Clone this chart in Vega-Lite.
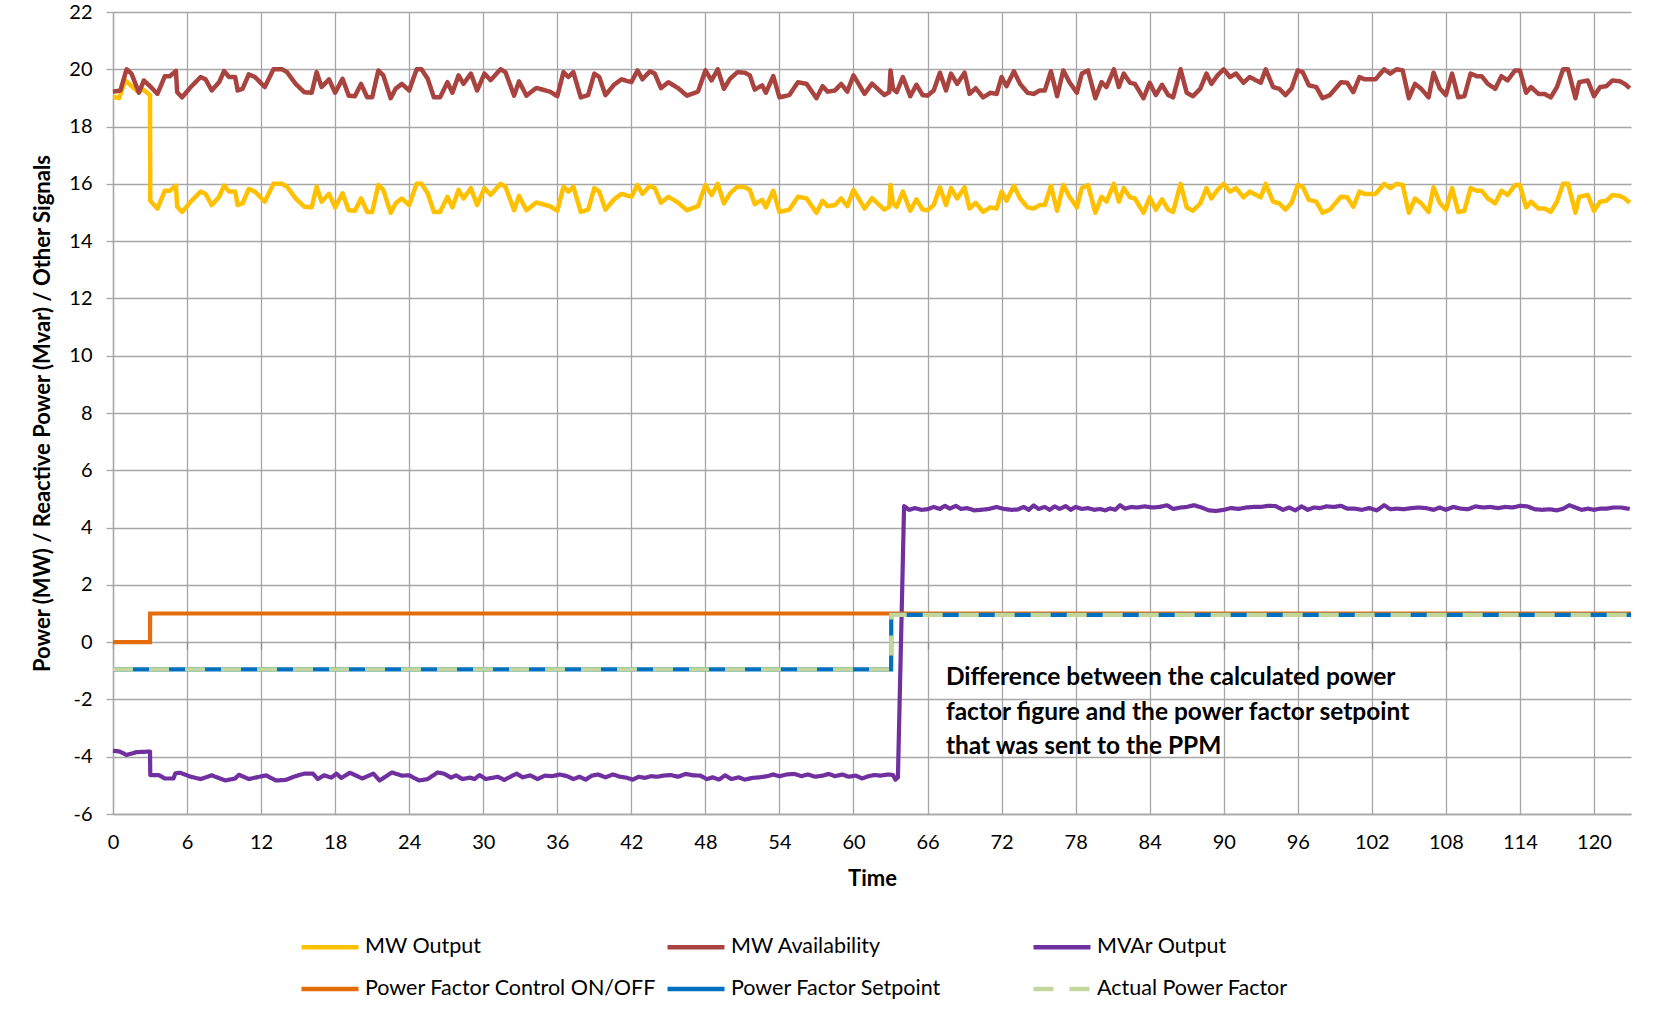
{
"$schema":"https://vega.github.io/schema/vega-lite/v6.json",
"width":1518,"height":802,
"autosize":{"type":"none"},
"padding":{"left":113,"top":12,"right":45,"bottom":210},
"background":"#ffffff",
"config":{
"font":"Lato",
"view":{"stroke":null},
"axis":{"labelFont":"Lato","labelFontSize":20,"labelColor":"#000000","titleFont":"Lato","titleFontSize":22,"titleFontWeight":"bold","titleColor":"#000000","gridColor":"#A6A6A6","gridWidth":1.3,"domainColor":"#A6A6A6","domainWidth":1.3,"tickColor":"#A6A6A6","tickWidth":1.3},
"legend":{"symbolType":"stroke","symbolSize":3249,"symbolStrokeWidth":4.5,"labelFont":"Lato","labelFontSize":21.5,"labelColor":"#000000","labelOffset":4,"padding":0,"labelLimit":500,"gridAlign":"all","columnPadding":1,"rowPadding":-13}
},
"datasets":{
"mwout":[{"t":0,"v":19.03},{"t":0.5,"v":19.0},{"t":1.0,"v":19.61},{"t":1.9,"v":19.26},{"t":2.45,"v":19.29},{"t":3.0,"v":19.1},{"t":3.02,"v":15.41},{"t":3.6,"v":15.14},{"t":4.0,"v":15.55},{"t":4.2,"v":15.76},{"t":4.6,"v":15.76},{"t":5.1,"v":15.94},{"t":5.2,"v":15.2},{"t":5.6,"v":15.02},{"t":6.3,"v":15.38},{"t":7.1,"v":15.73},{"t":7.5,"v":15.65},{"t":8.0,"v":15.26},{"t":8.6,"v":15.55},{"t":9.0,"v":15.94},{"t":9.4,"v":15.73},{"t":9.9,"v":15.73},{"t":10.1,"v":15.26},{"t":10.5,"v":15.32},{"t":11.0,"v":15.82},{"t":11.5,"v":15.73},{"t":12.3,"v":15.38},{"t":13.0,"v":16.0},{"t":13.7,"v":16.0},{"t":14.1,"v":15.9},{"t":14.8,"v":15.49},{"t":15.5,"v":15.2},{"t":16.1,"v":15.18},{"t":16.5,"v":15.9},{"t":16.9,"v":15.38},{"t":17.5,"v":15.65},{"t":18.0,"v":15.18},{"t":18.6,"v":15.67},{"t":19.1,"v":15.08},{"t":19.6,"v":15.06},{"t":20.1,"v":15.49},{"t":20.6,"v":15.02},{"t":21.0,"v":15.02},{"t":21.5,"v":15.96},{"t":21.9,"v":15.79},{"t":22.5,"v":14.99},{"t":22.9,"v":15.32},{"t":23.4,"v":15.49},{"t":24.0,"v":15.26},{"t":24.6,"v":16.0},{"t":25.0,"v":16.0},{"t":25.5,"v":15.67},{"t":26.0,"v":15.02},{"t":26.5,"v":15.02},{"t":27.1,"v":15.55},{"t":27.5,"v":15.18},{"t":28.0,"v":15.79},{"t":28.4,"v":15.49},{"t":29.0,"v":15.85},{"t":29.5,"v":15.26},{"t":30.1,"v":15.85},{"t":30.6,"v":15.62},{"t":31.4,"v":16.0},{"t":31.8,"v":15.9},{"t":32.5,"v":15.08},{"t":32.9,"v":15.58},{"t":33.5,"v":15.08},{"t":34.3,"v":15.35},{"t":35.4,"v":15.22},{"t":36.0,"v":15.06},{"t":36.5,"v":15.9},{"t":36.9,"v":15.73},{"t":37.3,"v":15.9},{"t":37.9,"v":15.02},{"t":38.5,"v":15.1},{"t":39.0,"v":15.85},{"t":39.4,"v":15.73},{"t":39.9,"v":15.1},{"t":40.6,"v":15.46},{"t":41.2,"v":15.65},{"t":42.0,"v":15.55},{"t":42.5,"v":15.96},{"t":42.9,"v":15.65},{"t":43.5,"v":15.93},{"t":43.9,"v":15.85},{"t":44.4,"v":15.34},{"t":45.0,"v":15.55},{"t":45.8,"v":15.34},{"t":46.5,"v":15.08},{"t":47.4,"v":15.22},{"t":48.0,"v":15.96},{"t":48.5,"v":15.61},{"t":49.0,"v":16.0},{"t":49.5,"v":15.32},{"t":50.0,"v":15.67},{"t":50.6,"v":15.9},{"t":51.2,"v":15.88},{"t":51.6,"v":15.79},{"t":52.0,"v":15.29},{"t":52.6,"v":15.44},{"t":52.9,"v":15.18},{"t":53.5,"v":15.76},{"t":54.0,"v":15.02},{"t":54.8,"v":15.1},{"t":55.5,"v":15.55},{"t":56.2,"v":15.49},{"t":57.0,"v":14.99},{"t":57.5,"v":15.41},{"t":57.9,"v":15.22},{"t":58.5,"v":15.26},{"t":59.0,"v":15.49},{"t":59.5,"v":15.22},{"t":60.0,"v":15.79},{"t":60.9,"v":15.14},{"t":61.5,"v":15.5},{"t":61.8,"v":15.38},{"t":62.5,"v":15.1},{"t":62.9,"v":15.2},{"t":63.0,"v":15.96},{"t":63.2,"v":15.32},{"t":63.5,"v":15.2},{"t":64.0,"v":15.73},{"t":64.6,"v":15.06},{"t":65.1,"v":15.46},{"t":65.6,"v":15.1},{"t":66.0,"v":15.08},{"t":66.5,"v":15.26},{"t":67.0,"v":15.88},{"t":67.5,"v":15.26},{"t":67.9,"v":15.85},{"t":68.4,"v":15.49},{"t":69.0,"v":15.88},{"t":69.4,"v":15.14},{"t":69.9,"v":15.34},{"t":70.5,"v":15.02},{"t":71.1,"v":15.18},{"t":71.6,"v":15.14},{"t":72.0,"v":15.73},{"t":72.4,"v":15.41},{"t":73.0,"v":15.93},{"t":73.5,"v":15.49},{"t":74.1,"v":15.18},{"t":74.6,"v":15.14},{"t":75.1,"v":15.26},{"t":75.5,"v":15.26},{"t":76.0,"v":15.93},{"t":76.5,"v":15.06},{"t":77.0,"v":15.96},{"t":77.5,"v":15.55},{"t":78.1,"v":15.18},{"t":78.5,"v":15.85},{"t":79.0,"v":15.96},{"t":79.6,"v":14.99},{"t":80.1,"v":15.55},{"t":80.5,"v":15.38},{"t":81.1,"v":16.0},{"t":81.5,"v":15.38},{"t":81.9,"v":15.85},{"t":82.4,"v":15.53},{"t":82.8,"v":15.49},{"t":83.5,"v":14.99},{"t":84.0,"v":15.53},{"t":84.5,"v":15.1},{"t":85.0,"v":15.46},{"t":85.5,"v":15.1},{"t":85.9,"v":15.02},{"t":86.5,"v":16.0},{"t":87.0,"v":15.18},{"t":87.5,"v":15.06},{"t":88.1,"v":15.32},{"t":88.6,"v":15.85},{"t":89.0,"v":15.49},{"t":89.5,"v":15.79},{"t":90.0,"v":16.0},{"t":90.5,"v":15.73},{"t":91.0,"v":15.85},{"t":91.6,"v":15.53},{"t":92.1,"v":15.73},{"t":93.0,"v":15.53},{"t":93.4,"v":16.0},{"t":94.0,"v":15.38},{"t":94.5,"v":15.32},{"t":95.0,"v":15.1},{"t":95.5,"v":15.34},{"t":96.0,"v":15.96},{"t":96.4,"v":15.9},{"t":96.9,"v":15.44},{"t":97.5,"v":15.38},{"t":98.0,"v":14.99},{"t":98.6,"v":15.1},{"t":99.5,"v":15.55},{"t":100.0,"v":15.53},{"t":100.5,"v":15.2},{"t":101.0,"v":15.73},{"t":101.4,"v":15.65},{"t":102.3,"v":15.65},{"t":103.0,"v":16.0},{"t":103.5,"v":15.85},{"t":104.0,"v":16.0},{"t":104.5,"v":15.96},{"t":105.0,"v":14.99},{"t":105.5,"v":15.49},{"t":106.0,"v":15.32},{"t":106.6,"v":15.02},{"t":107.0,"v":15.88},{"t":107.5,"v":15.34},{"t":108.0,"v":15.1},{"t":108.5,"v":15.85},{"t":109.0,"v":15.02},{"t":109.5,"v":15.06},{"t":110.0,"v":15.85},{"t":110.5,"v":15.76},{"t":110.9,"v":15.76},{"t":111.4,"v":15.49},{"t":112.0,"v":15.32},{"t":112.5,"v":15.76},{"t":113.0,"v":15.61},{"t":113.6,"v":15.96},{"t":114.0,"v":15.96},{"t":114.5,"v":15.18},{"t":114.9,"v":15.38},{"t":115.5,"v":15.14},{"t":116.0,"v":15.14},{"t":116.5,"v":15.02},{"t":117.0,"v":15.38},{"t":117.5,"v":16.0},{"t":117.9,"v":16.0},{"t":118.5,"v":14.99},{"t":118.8,"v":15.55},{"t":119.5,"v":15.61},{"t":120.0,"v":15.06},{"t":120.5,"v":15.38},{"t":121.0,"v":15.41},{"t":121.5,"v":15.61},{"t":122.1,"v":15.58},{"t":122.5,"v":15.49},{"t":122.9,"v":15.34}],
"avail":[{"t":0,"v":19.22},{"t":0.6,"v":19.26},{"t":1.1,"v":20.0},{"t":1.5,"v":19.85},{"t":2.1,"v":19.18},{"t":2.5,"v":19.61},{"t":3.0,"v":19.41},{"t":3.6,"v":19.14},{"t":4.0,"v":19.55},{"t":4.2,"v":19.76},{"t":4.6,"v":19.76},{"t":5.1,"v":19.94},{"t":5.2,"v":19.2},{"t":5.6,"v":19.02},{"t":6.3,"v":19.38},{"t":7.1,"v":19.73},{"t":7.5,"v":19.65},{"t":8.0,"v":19.26},{"t":8.6,"v":19.55},{"t":9.0,"v":19.94},{"t":9.4,"v":19.73},{"t":9.9,"v":19.73},{"t":10.1,"v":19.26},{"t":10.5,"v":19.32},{"t":11.0,"v":19.82},{"t":11.5,"v":19.73},{"t":12.3,"v":19.38},{"t":13.0,"v":20.0},{"t":13.7,"v":20.0},{"t":14.1,"v":19.9},{"t":14.8,"v":19.49},{"t":15.5,"v":19.2},{"t":16.1,"v":19.18},{"t":16.5,"v":19.9},{"t":16.9,"v":19.38},{"t":17.5,"v":19.65},{"t":18.0,"v":19.18},{"t":18.6,"v":19.67},{"t":19.1,"v":19.08},{"t":19.6,"v":19.06},{"t":20.1,"v":19.49},{"t":20.6,"v":19.02},{"t":21.0,"v":19.02},{"t":21.5,"v":19.96},{"t":21.9,"v":19.79},{"t":22.5,"v":18.99},{"t":22.9,"v":19.32},{"t":23.4,"v":19.49},{"t":24.0,"v":19.26},{"t":24.6,"v":20.0},{"t":25.0,"v":20.0},{"t":25.5,"v":19.67},{"t":26.0,"v":19.02},{"t":26.5,"v":19.02},{"t":27.1,"v":19.55},{"t":27.5,"v":19.18},{"t":28.0,"v":19.79},{"t":28.4,"v":19.49},{"t":29.0,"v":19.85},{"t":29.5,"v":19.26},{"t":30.1,"v":19.85},{"t":30.6,"v":19.62},{"t":31.4,"v":20.0},{"t":31.8,"v":19.9},{"t":32.5,"v":19.08},{"t":32.9,"v":19.58},{"t":33.5,"v":19.08},{"t":34.3,"v":19.35},{"t":35.4,"v":19.22},{"t":36.0,"v":19.06},{"t":36.5,"v":19.9},{"t":36.9,"v":19.73},{"t":37.3,"v":19.9},{"t":37.9,"v":19.02},{"t":38.5,"v":19.1},{"t":39.0,"v":19.85},{"t":39.4,"v":19.73},{"t":39.9,"v":19.1},{"t":40.6,"v":19.46},{"t":41.2,"v":19.65},{"t":42.0,"v":19.55},{"t":42.5,"v":19.96},{"t":42.9,"v":19.65},{"t":43.5,"v":19.93},{"t":43.9,"v":19.85},{"t":44.4,"v":19.34},{"t":45.0,"v":19.55},{"t":45.8,"v":19.34},{"t":46.5,"v":19.08},{"t":47.4,"v":19.22},{"t":48.0,"v":19.96},{"t":48.5,"v":19.61},{"t":49.0,"v":20.0},{"t":49.5,"v":19.32},{"t":50.0,"v":19.67},{"t":50.6,"v":19.9},{"t":51.2,"v":19.88},{"t":51.6,"v":19.79},{"t":52.0,"v":19.29},{"t":52.6,"v":19.44},{"t":52.9,"v":19.18},{"t":53.5,"v":19.76},{"t":54.0,"v":19.02},{"t":54.8,"v":19.1},{"t":55.5,"v":19.55},{"t":56.2,"v":19.49},{"t":57.0,"v":18.99},{"t":57.5,"v":19.41},{"t":57.9,"v":19.22},{"t":58.5,"v":19.26},{"t":59.0,"v":19.49},{"t":59.5,"v":19.22},{"t":60.0,"v":19.79},{"t":60.9,"v":19.14},{"t":61.5,"v":19.5},{"t":61.8,"v":19.38},{"t":62.5,"v":19.1},{"t":62.9,"v":19.2},{"t":63.0,"v":19.96},{"t":63.2,"v":19.32},{"t":63.5,"v":19.2},{"t":64.0,"v":19.73},{"t":64.6,"v":19.06},{"t":65.1,"v":19.46},{"t":65.6,"v":19.1},{"t":66.0,"v":19.08},{"t":66.5,"v":19.26},{"t":67.0,"v":19.88},{"t":67.5,"v":19.26},{"t":67.9,"v":19.85},{"t":68.4,"v":19.49},{"t":69.0,"v":19.88},{"t":69.4,"v":19.14},{"t":69.9,"v":19.34},{"t":70.5,"v":19.02},{"t":71.1,"v":19.18},{"t":71.6,"v":19.14},{"t":72.0,"v":19.73},{"t":72.4,"v":19.41},{"t":73.0,"v":19.93},{"t":73.5,"v":19.49},{"t":74.1,"v":19.18},{"t":74.6,"v":19.14},{"t":75.1,"v":19.26},{"t":75.5,"v":19.26},{"t":76.0,"v":19.93},{"t":76.5,"v":19.06},{"t":77.0,"v":19.96},{"t":77.5,"v":19.55},{"t":78.1,"v":19.18},{"t":78.5,"v":19.85},{"t":79.0,"v":19.96},{"t":79.6,"v":18.99},{"t":80.1,"v":19.55},{"t":80.5,"v":19.38},{"t":81.1,"v":20.0},{"t":81.5,"v":19.38},{"t":81.9,"v":19.85},{"t":82.4,"v":19.53},{"t":82.8,"v":19.49},{"t":83.5,"v":18.99},{"t":84.0,"v":19.53},{"t":84.5,"v":19.1},{"t":85.0,"v":19.46},{"t":85.5,"v":19.1},{"t":85.9,"v":19.02},{"t":86.5,"v":20.0},{"t":87.0,"v":19.18},{"t":87.5,"v":19.06},{"t":88.1,"v":19.32},{"t":88.6,"v":19.85},{"t":89.0,"v":19.49},{"t":89.5,"v":19.79},{"t":90.0,"v":20.0},{"t":90.5,"v":19.73},{"t":91.0,"v":19.85},{"t":91.6,"v":19.53},{"t":92.1,"v":19.73},{"t":93.0,"v":19.53},{"t":93.4,"v":20.0},{"t":94.0,"v":19.38},{"t":94.5,"v":19.32},{"t":95.0,"v":19.1},{"t":95.5,"v":19.34},{"t":96.0,"v":19.96},{"t":96.4,"v":19.9},{"t":96.9,"v":19.44},{"t":97.5,"v":19.38},{"t":98.0,"v":18.99},{"t":98.6,"v":19.1},{"t":99.5,"v":19.55},{"t":100.0,"v":19.53},{"t":100.5,"v":19.2},{"t":101.0,"v":19.73},{"t":101.4,"v":19.65},{"t":102.3,"v":19.65},{"t":103.0,"v":20.0},{"t":103.5,"v":19.85},{"t":104.0,"v":20.0},{"t":104.5,"v":19.96},{"t":105.0,"v":18.99},{"t":105.5,"v":19.49},{"t":106.0,"v":19.32},{"t":106.6,"v":19.02},{"t":107.0,"v":19.88},{"t":107.5,"v":19.34},{"t":108.0,"v":19.1},{"t":108.5,"v":19.85},{"t":109.0,"v":19.02},{"t":109.5,"v":19.06},{"t":110.0,"v":19.85},{"t":110.5,"v":19.76},{"t":110.9,"v":19.76},{"t":111.4,"v":19.49},{"t":112.0,"v":19.32},{"t":112.5,"v":19.76},{"t":113.0,"v":19.61},{"t":113.6,"v":19.96},{"t":114.0,"v":19.96},{"t":114.5,"v":19.18},{"t":114.9,"v":19.38},{"t":115.5,"v":19.14},{"t":116.0,"v":19.14},{"t":116.5,"v":19.02},{"t":117.0,"v":19.38},{"t":117.5,"v":20.0},{"t":117.9,"v":20.0},{"t":118.5,"v":18.99},{"t":118.8,"v":19.55},{"t":119.5,"v":19.61},{"t":120.0,"v":19.06},{"t":120.5,"v":19.38},{"t":121.0,"v":19.41},{"t":121.5,"v":19.61},{"t":122.1,"v":19.58},{"t":122.5,"v":19.49},{"t":122.9,"v":19.34}],
"mvar":[{"t":0,"v":-3.79},{"t":0.55,"v":-3.82},{"t":1.1,"v":-3.94},{"t":1.9,"v":-3.84},{"t":3.0,"v":-3.82},{"t":3.02,"v":-4.64},{"t":3.7,"v":-4.64},{"t":4.2,"v":-4.76},{"t":4.9,"v":-4.76},{"t":5.05,"v":-4.58},{"t":5.45,"v":-4.56},{"t":6.3,"v":-4.7},{"t":7.1,"v":-4.78},{"t":8.0,"v":-4.65},{"t":9.1,"v":-4.83},{"t":9.9,"v":-4.76},{"t":10.2,"v":-4.63},{"t":11.0,"v":-4.78},{"t":12.4,"v":-4.65},{"t":13.2,"v":-4.83},{"t":14.0,"v":-4.81},{"t":14.7,"v":-4.69},{"t":15.5,"v":-4.59},{"t":16.2,"v":-4.59},{"t":16.6,"v":-4.78},{"t":17.1,"v":-4.65},{"t":17.7,"v":-4.73},{"t":18.1,"v":-4.59},{"t":18.5,"v":-4.74},{"t":19.2,"v":-4.56},{"t":20.2,"v":-4.76},{"t":21.1,"v":-4.59},{"t":21.6,"v":-4.83},{"t":22.6,"v":-4.55},{"t":23.4,"v":-4.66},{"t":24.0,"v":-4.65},{"t":24.8,"v":-4.83},{"t":25.5,"v":-4.78},{"t":26.3,"v":-4.55},{"t":26.8,"v":-4.59},{"t":27.4,"v":-4.73},{"t":27.8,"v":-4.65},{"t":28.3,"v":-4.78},{"t":28.9,"v":-4.73},{"t":29.3,"v":-4.78},{"t":29.7,"v":-4.64},{"t":30.2,"v":-4.78},{"t":31.2,"v":-4.7},{"t":31.7,"v":-4.81},{"t":32.7,"v":-4.59},{"t":33.2,"v":-4.72},{"t":33.8,"v":-4.65},{"t":34.4,"v":-4.78},{"t":35.0,"v":-4.66},{"t":35.6,"v":-4.68},{"t":36.2,"v":-4.62},{"t":36.8,"v":-4.68},{"t":37.3,"v":-4.78},{"t":37.8,"v":-4.7},{"t":38.3,"v":-4.8},{"t":38.8,"v":-4.66},{"t":39.3,"v":-4.62},{"t":39.9,"v":-4.72},{"t":40.5,"v":-4.62},{"t":41.1,"v":-4.7},{"t":41.6,"v":-4.73},{"t":42.1,"v":-4.8},{"t":42.6,"v":-4.7},{"t":43.1,"v":-4.74},{"t":43.6,"v":-4.68},{"t":44.1,"v":-4.7},{"t":44.6,"v":-4.66},{"t":45.2,"v":-4.64},{"t":45.8,"v":-4.7},{"t":46.4,"v":-4.6},{"t":47.0,"v":-4.65},{"t":47.6,"v":-4.66},{"t":48.1,"v":-4.78},{"t":48.6,"v":-4.72},{"t":49.1,"v":-4.8},{"t":49.6,"v":-4.65},{"t":50.1,"v":-4.78},{"t":50.7,"v":-4.72},{"t":51.2,"v":-4.8},{"t":51.8,"v":-4.74},{"t":52.4,"v":-4.72},{"t":53.0,"v":-4.68},{"t":53.5,"v":-4.62},{"t":54.0,"v":-4.68},{"t":54.6,"v":-4.62},{"t":55.2,"v":-4.6},{"t":55.8,"v":-4.68},{"t":56.3,"v":-4.62},{"t":56.9,"v":-4.7},{"t":57.5,"v":-4.66},{"t":58.0,"v":-4.6},{"t":58.5,"v":-4.68},{"t":59.1,"v":-4.62},{"t":59.6,"v":-4.7},{"t":60.2,"v":-4.66},{"t":60.7,"v":-4.76},{"t":61.2,"v":-4.68},{"t":61.7,"v":-4.64},{"t":62.2,"v":-4.66},{"t":62.8,"v":-4.62},{"t":63.2,"v":-4.64},{"t":63.4,"v":-4.8},{"t":63.6,"v":-4.72},{"t":64.1,"v":4.75},{"t":64.5,"v":4.62},{"t":65.0,"v":4.68},{"t":65.5,"v":4.62},{"t":66.0,"v":4.64},{"t":66.5,"v":4.72},{"t":67.0,"v":4.65},{"t":67.4,"v":4.76},{"t":67.8,"v":4.66},{"t":68.3,"v":4.76},{"t":68.7,"v":4.65},{"t":69.2,"v":4.68},{"t":69.8,"v":4.6},{"t":70.3,"v":4.62},{"t":71.0,"v":4.65},{"t":71.6,"v":4.72},{"t":72.2,"v":4.65},{"t":72.8,"v":4.62},{"t":73.3,"v":4.63},{"t":73.8,"v":4.72},{"t":74.2,"v":4.62},{"t":74.6,"v":4.77},{"t":75.0,"v":4.65},{"t":75.5,"v":4.72},{"t":75.9,"v":4.62},{"t":76.3,"v":4.74},{"t":76.7,"v":4.65},{"t":77.2,"v":4.75},{"t":77.6,"v":4.62},{"t":78.0,"v":4.72},{"t":78.5,"v":4.65},{"t":79.0,"v":4.68},{"t":79.5,"v":4.62},{"t":80.0,"v":4.65},{"t":80.4,"v":4.6},{"t":80.8,"v":4.67},{"t":81.2,"v":4.62},{"t":81.6,"v":4.78},{"t":82.0,"v":4.66},{"t":82.5,"v":4.72},{"t":83.0,"v":4.7},{"t":83.6,"v":4.74},{"t":84.2,"v":4.7},{"t":84.8,"v":4.72},{"t":85.4,"v":4.78},{"t":85.9,"v":4.65},{"t":86.5,"v":4.7},{"t":87.0,"v":4.72},{"t":87.6,"v":4.78},{"t":88.2,"v":4.7},{"t":88.8,"v":4.6},{"t":89.4,"v":4.58},{"t":90.0,"v":4.62},{"t":90.6,"v":4.68},{"t":91.2,"v":4.65},{"t":91.8,"v":4.7},{"t":92.4,"v":4.72},{"t":93.0,"v":4.72},{"t":93.6,"v":4.76},{"t":94.2,"v":4.75},{"t":94.8,"v":4.62},{"t":95.3,"v":4.7},{"t":95.8,"v":4.6},{"t":96.3,"v":4.74},{"t":96.8,"v":4.62},{"t":97.3,"v":4.7},{"t":97.8,"v":4.68},{"t":98.3,"v":4.74},{"t":98.9,"v":4.72},{"t":99.5,"v":4.76},{"t":100.0,"v":4.66},{"t":100.6,"v":4.66},{"t":101.2,"v":4.62},{"t":101.8,"v":4.68},{"t":102.4,"v":4.6},{"t":103.0,"v":4.78},{"t":103.5,"v":4.64},{"t":104.0,"v":4.66},{"t":104.6,"v":4.64},{"t":105.2,"v":4.68},{"t":105.8,"v":4.7},{"t":106.4,"v":4.68},{"t":107.0,"v":4.62},{"t":107.5,"v":4.7},{"t":108.0,"v":4.62},{"t":108.6,"v":4.72},{"t":109.2,"v":4.66},{"t":109.8,"v":4.64},{"t":110.4,"v":4.74},{"t":111.0,"v":4.7},{"t":111.6,"v":4.72},{"t":112.2,"v":4.68},{"t":112.8,"v":4.72},{"t":113.4,"v":4.7},{"t":114.0,"v":4.76},{"t":114.6,"v":4.74},{"t":115.2,"v":4.64},{"t":115.8,"v":4.62},{"t":116.4,"v":4.64},{"t":117.0,"v":4.6},{"t":117.5,"v":4.66},{"t":118.0,"v":4.78},{"t":118.5,"v":4.7},{"t":119.0,"v":4.62},{"t":119.5,"v":4.66},{"t":120.0,"v":4.62},{"t":120.5,"v":4.66},{"t":121.0,"v":4.66},{"t":121.6,"v":4.7},{"t":122.2,"v":4.7},{"t":122.9,"v":4.65}],
"pfc":[{"t":0,"v":0},{"t":3.0,"v":0},{"t":3.01,"v":1},{"t":123,"v":1}],
"sp":[{"t":0,"v":-0.95},{"t":63.05,"v":-0.95},{"t":63.06,"v":0.95},{"t":123,"v":0.95}],
"apf":[{"t":0,"v":-0.95},{"t":63.05,"v":-0.95},{"t":63.06,"v":0.95},{"t":123,"v":0.95}],
"note":[{"t":67.49,"v":-1.25,"txt":["Difference between the calculated power","factor figure and the power factor setpoint","that was sent to the PPM"]}]
},
"encoding":{
"y":{"field":"v","type":"quantitative","scale":{"domain":[-6,22],"nice":false,"zero":false},"axis":{"values":[-6,-4,-2,0,2,4,6,8,10,12,14,16,18,20,22],"labelExpr":"datum.value + ''","tickSize":7,"labelPadding":14,"title":"Power (MW) / Reactive Power (Mvar) / Other Signals","titlePadding":14,"grid":true}}
},
"layer":[
{"encoding":{"x":{"field":"t","type":"quantitative","scale":{"domain":[0,123],"nice":false,"zero":false},"axis":{"orient":"bottom","values":[0,6,12,18,24,30,36,42,48,54,60,66,72,78,84,90,96,102,108,114,120],"ticks":false,"labelPadding":18,"labelFlush":false,"title":"Time","titlePadding":16,"grid":true}}},
"layer":[
{"data":{"name":"mwout"},"mark":{"type":"line","strokeWidth":4.5,"strokeJoin":"round"},"encoding":{"color":{"datum":"MW Output","type":"nominal","scale":{"domain":["MW Output","MW Availability","MVAr Output","Power Factor Control ON/OFF","Power Factor Setpoint","Actual Power Factor"],"range":["#FFC000","#A9433F","#7030A0","#E46C0A","#0070C0","#C3D69B"]},"legend":{"title":null,"orient":"none","legendX":186,"legendY":904,"columns":3,"direction":"horizontal"}},"strokeDash":{"datum":"MW Output","type":"nominal","scale":{"domain":["MW Output","MW Availability","MVAr Output","Power Factor Control ON/OFF","Power Factor Setpoint","Actual Power Factor"],"range":[[1,0],[1,0],[1,0],[1,0],[1,0],[20,16]]},"legend":{"title":null,"orient":"none","legendX":186,"legendY":904,"columns":3,"direction":"horizontal"}}}},
{"data":{"name":"avail"},"mark":{"type":"line","strokeWidth":4.5,"strokeJoin":"round"},"encoding":{"color":{"datum":"MW Availability","type":"nominal","scale":{"domain":["MW Output","MW Availability","MVAr Output","Power Factor Control ON/OFF","Power Factor Setpoint","Actual Power Factor"],"range":["#FFC000","#A9433F","#7030A0","#E46C0A","#0070C0","#C3D69B"]},"legend":{"title":null,"orient":"none","legendX":186,"legendY":904,"columns":3,"direction":"horizontal"}},"strokeDash":{"datum":"MW Availability","type":"nominal","scale":{"domain":["MW Output","MW Availability","MVAr Output","Power Factor Control ON/OFF","Power Factor Setpoint","Actual Power Factor"],"range":[[1,0],[1,0],[1,0],[1,0],[1,0],[20,16]]},"legend":{"title":null,"orient":"none","legendX":186,"legendY":904,"columns":3,"direction":"horizontal"}}}},
{"data":{"name":"mvar"},"mark":{"type":"line","strokeWidth":4.2,"strokeJoin":"round"},"encoding":{"color":{"datum":"MVAr Output","type":"nominal","scale":{"domain":["MW Output","MW Availability","MVAr Output","Power Factor Control ON/OFF","Power Factor Setpoint","Actual Power Factor"],"range":["#FFC000","#A9433F","#7030A0","#E46C0A","#0070C0","#C3D69B"]},"legend":{"title":null,"orient":"none","legendX":186,"legendY":904,"columns":3,"direction":"horizontal"}},"strokeDash":{"datum":"MVAr Output","type":"nominal","scale":{"domain":["MW Output","MW Availability","MVAr Output","Power Factor Control ON/OFF","Power Factor Setpoint","Actual Power Factor"],"range":[[1,0],[1,0],[1,0],[1,0],[1,0],[20,16]]},"legend":{"title":null,"orient":"none","legendX":186,"legendY":904,"columns":3,"direction":"horizontal"}}}},
{"data":{"name":"pfc"},"mark":{"type":"line","strokeWidth":4.2,"strokeJoin":"miter"},"encoding":{"color":{"datum":"Power Factor Control ON/OFF","type":"nominal","scale":{"domain":["MW Output","MW Availability","MVAr Output","Power Factor Control ON/OFF","Power Factor Setpoint","Actual Power Factor"],"range":["#FFC000","#A9433F","#7030A0","#E46C0A","#0070C0","#C3D69B"]},"legend":{"title":null,"orient":"none","legendX":186,"legendY":904,"columns":3,"direction":"horizontal"}},"strokeDash":{"datum":"Power Factor Control ON/OFF","type":"nominal","scale":{"domain":["MW Output","MW Availability","MVAr Output","Power Factor Control ON/OFF","Power Factor Setpoint","Actual Power Factor"],"range":[[1,0],[1,0],[1,0],[1,0],[1,0],[20,16]]},"legend":{"title":null,"orient":"none","legendX":186,"legendY":904,"columns":3,"direction":"horizontal"}}}},
{"data":{"name":"sp"},"mark":{"type":"line","strokeWidth":4.2,"strokeJoin":"miter"},"encoding":{"color":{"datum":"Power Factor Setpoint","type":"nominal","scale":{"domain":["MW Output","MW Availability","MVAr Output","Power Factor Control ON/OFF","Power Factor Setpoint","Actual Power Factor"],"range":["#FFC000","#A9433F","#7030A0","#E46C0A","#0070C0","#C3D69B"]},"legend":{"title":null,"orient":"none","legendX":186,"legendY":904,"columns":3,"direction":"horizontal"}},"strokeDash":{"datum":"Power Factor Setpoint","type":"nominal","scale":{"domain":["MW Output","MW Availability","MVAr Output","Power Factor Control ON/OFF","Power Factor Setpoint","Actual Power Factor"],"range":[[1,0],[1,0],[1,0],[1,0],[1,0],[20,16]]},"legend":{"title":null,"orient":"none","legendX":186,"legendY":904,"columns":3,"direction":"horizontal"}}}},
{"data":{"name":"apf"},"mark":{"type":"line","strokeWidth":4.2,"strokeJoin":"miter"},"encoding":{"color":{"datum":"Actual Power Factor","type":"nominal","scale":{"domain":["MW Output","MW Availability","MVAr Output","Power Factor Control ON/OFF","Power Factor Setpoint","Actual Power Factor"],"range":["#FFC000","#A9433F","#7030A0","#E46C0A","#0070C0","#C3D69B"]},"legend":{"title":null,"orient":"none","legendX":186,"legendY":904,"columns":3,"direction":"horizontal"}},"strokeDash":{"datum":"Actual Power Factor","type":"nominal","scale":{"domain":["MW Output","MW Availability","MVAr Output","Power Factor Control ON/OFF","Power Factor Setpoint","Actual Power Factor"],"range":[[1,0],[1,0],[1,0],[1,0],[1,0],[20,16]]},"legend":{"title":null,"orient":"none","legendX":186,"legendY":904,"columns":3,"direction":"horizontal"}}}}
]},
{"data":{"name":"note"},"mark":{"type":"text","align":"left","baseline":"middle","font":"Lato","fontSize":24.5,"fontWeight":"bold","lineHeight":34.7,"color":"#000000"},
"encoding":{"x":{"field":"t","type":"quantitative","scale":{"domain":[0,123],"nice":false,"zero":false},"axis":{"orient":"bottom","offset":-172,"values":[0,6,12,18,24,30,36,42,48,54,60,66,72,78,84,90,96,102,108,114,120],"labels":false,"title":null,"grid":false,"domain":false,"ticks":true,"tickSize":7,"tickColor":"#8C8C8C"}},"text":{"field":"txt","type":"nominal"}}}
],
"resolve":{"axis":{"x":"independent"}}
}
